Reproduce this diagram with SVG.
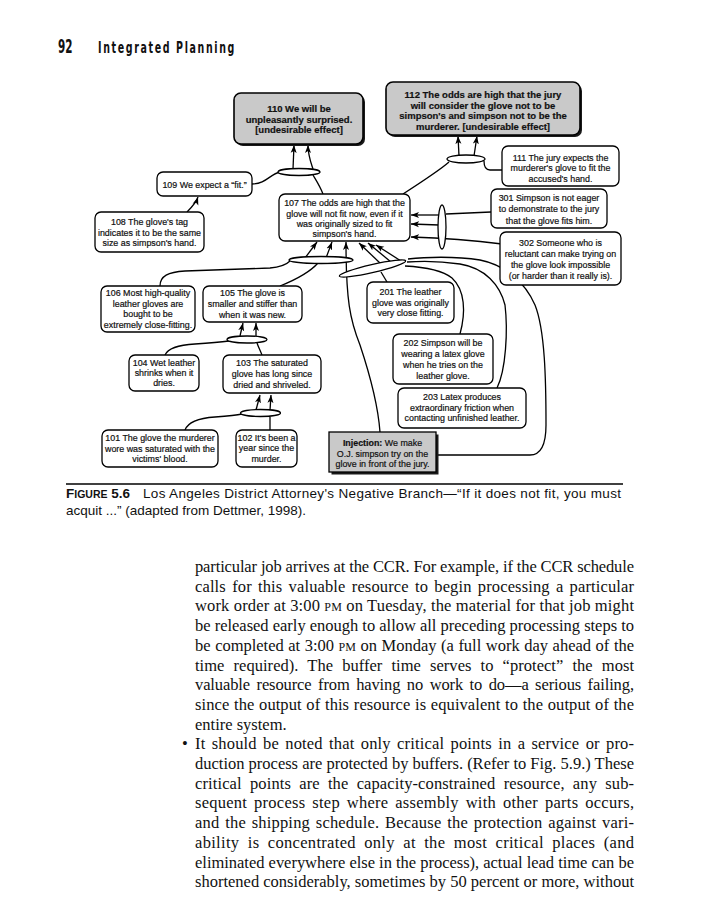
<svg xmlns="http://www.w3.org/2000/svg" width="715" height="900" viewBox="0 0 715 900">
<style>
.bx{fill:#fff;stroke:#000;stroke-width:1.3}
.gb{fill:#c9c9c9;stroke:#000;stroke-width:1.6}
.sh{fill:#1a1a1a}
.t{font-family:"Liberation Sans",Arial,sans-serif;font-size:8.9px;text-anchor:middle;fill:#111;stroke:#111;stroke-width:0.2}
.tb{font-weight:bold;font-size:9.5px}
.c{fill:none;stroke:#000;stroke-width:1.3}
.a{marker-end:url(#ah)}
.e{fill:#fff;stroke:#000;stroke-width:1.3}
.body{font-family:"Liberation Serif","Times New Roman",serif;font-size:16.5px;fill:#111}
.sc{font-size:12px}
.cap{font-family:"Liberation Sans",Arial,sans-serif;font-size:13.5px;fill:#111}
</style>
<defs>
<marker id="ah" markerUnits="userSpaceOnUse" markerWidth="9" markerHeight="7" refX="8" refY="3.5" orient="auto"><path d="M0,0.5 L8,3.5 L0,6.5 L2,3.5 z" fill="#000"/></marker>
</defs>
<rect width="715" height="900" fill="#fff"/>
<g id="header">
<text x="58" y="53" font-family="DejaVu Sans Condensed,DejaVu Sans,sans-serif" font-weight="bold" font-size="19" textLength="14.5" lengthAdjust="spacingAndGlyphs" fill="#111">92</text>
<text x="98" y="52.5" font-family="DejaVu Sans Condensed,DejaVu Sans,sans-serif" font-weight="bold" font-size="16" letter-spacing="2.5" textLength="138" lengthAdjust="spacingAndGlyphs" fill="#111">Integrated Planning</text>
</g>
<g id="connectors">
<path class="c a" d="M187,212 C192,207 196,203 198,197"/>
<path class="c" d="M252,184 C266,184 270,174 280,172"/>
<path class="c" d="M323,194 C320,186 316,180 313,175"/>
<path class="c a" d="M293,169 L294,145"/>
<path class="c a" d="M313,169 C310,160 308,155 308,145"/>
<path class="c" d="M403,194 C420,183 440,170 449,162"/>
<path class="c" d="M502,170 L490,170 C485,170 484,166 484,161"/>
<path class="c a" d="M459,156 L458,136"/>
<path class="c a" d="M474,156 L477,136"/>
<path class="c" d="M491,212 L446,214"/>
<path class="c a" d="M439,215 L411,215"/>
<path class="c a" d="M439,225 L411,224"/>
<path class="c a" d="M502,244 C470,240 440,238 411,237"/>
<path class="c" d="M160,286 C160,276 168,272 185,271 L270,268 C283,267 287,264 290,261"/>
<path class="c" d="M280,286 C295,280 310,272 318,263"/>
<path class="c a" d="M305,258 L317,242"/>
<path class="c a" d="M326,258 L332,242"/>
<path class="c a" d="M380,432 C378,405 370,375 360,345 C350,320 346,300 346,242"/>
<path class="c" d="M387,282 L381,272"/>
<path class="c" d="M460,334 C466,312 465,290 452,278 C442,270 425,267 405,266"/>
<path class="c" d="M497,388 C506,370 508,330 505,305 C500,285 485,268 460,264 C440,261 420,261 407,262"/>
<path class="c" d="M437,455 L530,455 C543,455 546,440 546,425 C546,380 545,330 535,305 C525,282 505,265 480,260 C455,256 425,257 408,259"/>
<path class="c a" d="M381,264 L359,243"/>
<path class="c a" d="M391,262 L368,243"/>
<path class="c a" d="M401,261 L376,245"/>
<path class="c" d="M165,355 C168,348 178,345 195,344 C212,343 222,342 229,341"/>
<path class="c" d="M262,355 C260,350 258,346 257,343"/>
<path class="c a" d="M240,336 L243,323"/>
<path class="c a" d="M256,336 L256,323"/>
<path class="c" d="M185,430 C188,422 200,418 215,417 C230,416 238,415 242,414"/>
<path class="c" d="M270,430 L270,417"/>
<path class="c a" d="M256,410 L260,395"/>
<path class="c a" d="M270,410 L271,395"/>
<ellipse class="e" cx="299" cy="172" rx="21" ry="3.5"/>
<ellipse class="e" cx="466" cy="159" rx="19" ry="4"/>
<ellipse class="e" cx="442" cy="227" rx="4" ry="22"/>
<ellipse class="e" cx="321" cy="260" rx="32" ry="3.5"/>
<ellipse class="e" cx="0" cy="0" rx="34" ry="4" transform="translate(372.5,268.5) rotate(-13)"/>
<ellipse class="e" cx="247" cy="339.5" rx="20" ry="3.5"/>
<ellipse class="e" cx="260.5" cy="413" rx="20" ry="3.5"/>
</g>
<g id="n110">
<rect class="sh" x="236" y="95" width="129" height="51" rx="7"/>
<rect class="gb" x="234" y="93" width="129" height="51" rx="7"/>
<text class="t tb"><tspan x="299" y="112">110 We will be</tspan><tspan x="299" y="122.5">unpleasantly surprised.</tspan><tspan x="299" y="133">[undesirable effect]</tspan></text>
</g>
<g id="n112">
<rect class="sh" x="388" y="84" width="194" height="53" rx="7"/>
<rect class="gb" x="386" y="82" width="194" height="53" rx="7"/>
<text class="t tb"><tspan x="483" y="98">112 The odds are high that the jury</tspan><tspan x="483" y="108.5">will consider the glove not to be</tspan><tspan x="483" y="119">simpson's and simpson not to be the</tspan><tspan x="483" y="129.5">murderer. [undesirable effect]</tspan></text>
</g>
<g id="n111">
<rect class="bx" x="502" y="146" width="117" height="40" rx="6"/>
<text class="t"><tspan x="560.5" y="161">111 The jury expects the</tspan><tspan x="560.5" y="171">murderer's glove to fit the</tspan><tspan x="560.5" y="181.5">accused's hand.</tspan></text>
</g>
<g id="n301">
<rect class="bx" x="491" y="189" width="116" height="39" rx="6"/>
<text class="t"><tspan x="549" y="201">301 Simpson is not eager</tspan><tspan x="549" y="212">to demonstrate to the jury</tspan><tspan x="549" y="223.5">that the glove fits him.</tspan></text>
</g>
<g id="n302">
<rect class="bx" x="500" y="232" width="121" height="53" rx="6"/>
<text class="t"><tspan x="560.5" y="246">302 Someone who is</tspan><tspan x="560.5" y="257">reluctant can make trying on</tspan><tspan x="560.5" y="268">the glove look impossible</tspan><tspan x="560.5" y="279">(or harder than it really is).</tspan></text>
</g>
<g id="n109">
<rect class="bx" x="157" y="172" width="95" height="24" rx="6"/>
<text class="t"><tspan x="204.5" y="187.5">109 We expect a “fit.”</tspan></text>
</g>
<g id="n108">
<rect class="bx" x="95" y="212" width="109" height="40" rx="6"/>
<text class="t"><tspan x="149.5" y="225">108 The glove's tag</tspan><tspan x="149.5" y="235.5">indicates it to be the same</tspan><tspan x="149.5" y="246">size as simpson's hand.</tspan></text>
</g>
<g id="n107">
<rect class="bx" x="279" y="194" width="131" height="47" rx="6"/>
<text class="t"><tspan x="344.5" y="206">107 The odds are high that the</tspan><tspan x="344.5" y="216.5">glove will not fit now, even if it</tspan><tspan x="344.5" y="227">was originally sized to fit</tspan><tspan x="344.5" y="237">simpson's hand.</tspan></text>
</g>
<g id="n106">
<rect class="bx" x="101" y="286" width="94" height="46" rx="6"/>
<text class="t"><tspan x="148" y="296">106 Most high-quality</tspan><tspan x="148" y="306.5">leather gloves are</tspan><tspan x="148" y="317">bought to be</tspan><tspan x="148" y="328">extremely close-fitting.</tspan></text>
</g>
<g id="n105">
<rect class="bx" x="203" y="286" width="99" height="36" rx="6"/>
<text class="t"><tspan x="252.5" y="296">105 The glove is</tspan><tspan x="252.5" y="307">smaller and stiffer than</tspan><tspan x="252.5" y="318">when it was new.</tspan></text>
</g>
<g id="n201">
<rect class="bx" x="367" y="282" width="87" height="41" rx="6"/>
<text class="t"><tspan x="410.5" y="295">201 The leather</tspan><tspan x="410.5" y="305.5">glove was originally</tspan><tspan x="410.5" y="316">very close fitting.</tspan></text>
</g>
<g id="n202">
<rect class="bx" x="393" y="334" width="100" height="50" rx="6"/>
<text class="t"><tspan x="443" y="346">202 Simpson will be</tspan><tspan x="443" y="357">wearing a latex glove</tspan><tspan x="443" y="368">when he tries on the</tspan><tspan x="443" y="379">leather glove.</tspan></text>
</g>
<g id="n203">
<rect class="bx" x="398" y="388" width="128" height="40" rx="6"/>
<text class="t"><tspan x="462" y="400">203 Latex produces</tspan><tspan x="462" y="410.5">extraordinary friction when</tspan><tspan x="462" y="421">contacting unfinished leather.</tspan></text>
</g>
<g id="n104">
<rect class="bx" x="129" y="355" width="70" height="36" rx="6"/>
<text class="t"><tspan x="164" y="366">104 Wet leather</tspan><tspan x="164" y="376">shrinks when it</tspan><tspan x="164" y="386">dries.</tspan></text>
</g>
<g id="n103">
<rect class="bx" x="223" y="355" width="98" height="38" rx="6"/>
<text class="t"><tspan x="272" y="366">103 The saturated</tspan><tspan x="272" y="377">glove has long since</tspan><tspan x="272" y="387.5">dried and shriveled.</tspan></text>
</g>
<g id="n101">
<rect class="bx" x="102" y="430" width="116" height="37" rx="6"/>
<text class="t"><tspan x="160" y="441">101 The glove the murderer</tspan><tspan x="160" y="451.5">wore was saturated with the</tspan><tspan x="160" y="462">victims' blood.</tspan></text>
</g>
<g id="n102">
<rect class="bx" x="236" y="430" width="61" height="37" rx="6"/>
<text class="t"><tspan x="266.5" y="440.5">102 It's been a</tspan><tspan x="266.5" y="451">year since the</tspan><tspan x="266.5" y="461.5">murder.</tspan></text>
</g>
<g id="injection">
<rect class="sh" x="331.5" y="434.5" width="107" height="40"/>
<rect x="329" y="432" width="107" height="40" fill="#c9c9c9" stroke="#000" stroke-width="1.3"/>
<text class="t"><tspan x="382.5" y="446"><tspan font-weight="bold">Injection:</tspan> We make</tspan><tspan x="382.5" y="456.5">O.J. simpson try on the</tspan><tspan x="382.5" y="467">glove in front of the jury.</tspan></text>
</g>
<g id="caption">
<line x1="66" y1="484" x2="623" y2="484" stroke="#000" stroke-width="1.3"/>
<text class="cap" x="66" y="498" font-weight="bold">F<tspan font-size="10.5">IGURE</tspan> 5.6</text>
<text class="cap" x="143" y="498" textLength="478" lengthAdjust="spacing">Los Angeles District Attorney's Negative Branch—“If it does not fit, you must</text>
<text class="cap" x="66" y="515">acquit ...” (adapted from Dettmer, 1998).</text>
</g>
<g id="bodytext" class="body">
<text x="195" y="572" textLength="439" lengthAdjust="spacing">particular job arrives at the CCR. For example, if the CCR schedule</text>
<text x="195" y="591.7" textLength="439" lengthAdjust="spacing" word-spacing="2">calls for this valuable resource to begin processing a particular</text>
<text x="195" y="611.4" textLength="439" lengthAdjust="spacing">work order at 3:00 <tspan class="sc">PM</tspan> on Tuesday, the material for that job might</text>
<text x="195" y="631.1" textLength="439" lengthAdjust="spacing">be released early enough to allow all preceding processing steps to</text>
<text x="195" y="650.8" textLength="439" lengthAdjust="spacing" word-spacing="0.5">be completed at 3:00 <tspan class="sc">PM</tspan> on Monday (a full work day ahead of the</text>
<text x="195" y="670.5" textLength="439" lengthAdjust="spacing" word-spacing="5">time required). The buffer time serves to “protect” the most</text>
<text x="195" y="690.2" textLength="439" lengthAdjust="spacing" word-spacing="2.5">valuable resource from having no work to do—a serious failing,</text>
<text x="195" y="709.9" textLength="439" lengthAdjust="spacing" word-spacing="0.5">since the output of this resource is equivalent to the output of the</text>
<text x="195" y="729.6">entire system.</text>
<text x="182" y="749.3">•</text>
<text x="195" y="749.3" textLength="439" lengthAdjust="spacing" word-spacing="2">It should be noted that only critical points in a service or pro-</text>
<text x="195" y="769" textLength="439" lengthAdjust="spacing">duction process are protected by buffers. (Refer to Fig. 5.9.) These</text>
<text x="195" y="788.7" textLength="439" lengthAdjust="spacing" word-spacing="4">critical points are the capacity-constrained resource, any sub-</text>
<text x="195" y="808.4" textLength="439" lengthAdjust="spacing" word-spacing="2.5">sequent process step where assembly with other parts occurs,</text>
<text x="195" y="828.1" textLength="439" lengthAdjust="spacing" word-spacing="1.5">and the shipping schedule. Because the protection against vari-</text>
<text x="195" y="847.8" textLength="439" lengthAdjust="spacing" word-spacing="4">ability is concentrated only at the most critical places (and</text>
<text x="195" y="867.5" textLength="439" lengthAdjust="spacing">eliminated everywhere else in the process), actual lead time can be</text>
<text x="195" y="887.2" textLength="439" lengthAdjust="spacing">shortened considerably, sometimes by 50 percent or more, without</text>
</g>
</svg>
